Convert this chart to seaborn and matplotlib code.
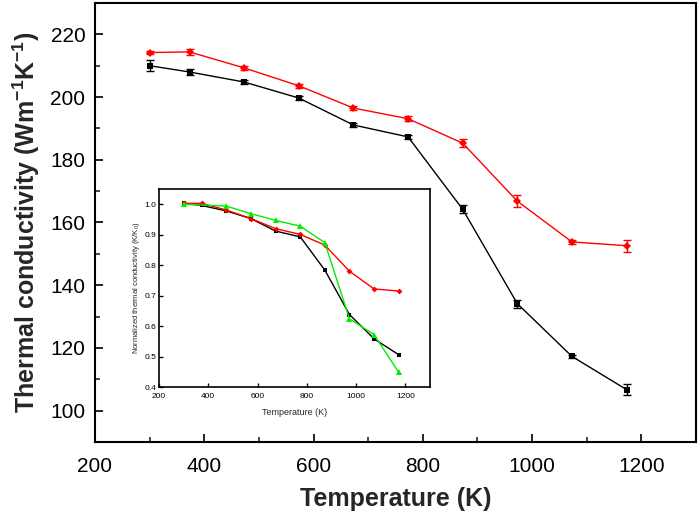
import matplotlib
matplotlib.use("Agg")
import matplotlib.pyplot as plt
from matplotlib.ticker import MultipleLocator, FormatStrFormatter
import pandas as pd
import seaborn as sns

# Main panel: thermal conductivity (Wm-1K-1)
temp = [300, 373, 473, 573, 673, 773, 873, 973, 1073, 1173]
kappa_black = [210.0, 208.0, 204.8, 199.7, 191.1, 187.3, 164.2, 134.1, 117.3, 106.7]
err_black = [1.8, 1.0, 0.6, 0.7, 0.7, 0.7, 1.3, 1.3, 0.6, 1.8]
kappa_red = [214.2, 214.4, 209.3, 203.6, 196.5, 193.1, 185.3, 166.8, 153.8, 152.6]
err_red = [0.6, 1.0, 0.6, 0.6, 0.6, 0.8, 1.2, 1.9, 0.5, 1.9]

# Inset: normalized thermal conductivity
norm_black = [1.003, 0.996, 0.978, 0.953, 0.912, 0.893, 0.784, 0.638, 0.558, 0.506]
norm_red = [1.003, 1.003, 0.981, 0.953, 0.920, 0.901, 0.866, 0.780, 0.722, 0.715]
temp_green = [300, 473, 573, 673, 773, 873, 973, 1073, 1173]
norm_green = [1.000, 0.994, 0.969, 0.947, 0.928, 0.874, 0.624, 0.572, 0.448]

RED = "#ff0000"
GREEN = "#00ee00"

sns.set_theme(style="ticks")
plt.rcParams["font.family"] = ["Liberation Sans", "DejaVu Sans"]
plt.rcParams["mathtext.fontset"] = "custom"
plt.rcParams["mathtext.rm"] = "Liberation Sans"
plt.rcParams["mathtext.bf"] = "Liberation Sans:bold"


def style_axis(ax, lw, major, minor, size):
    """Box frame with inward ticks on bottom/left only."""
    for sp in ax.spines.values():
        sp.set_visible(True)
        sp.set_linewidth(lw)
        sp.set_color("black")
    ax.tick_params(which="major", direction="in", length=major, width=lw * 0.8,
                   labelsize=size, top=False, right=False, colors="black")
    ax.tick_params(which="minor", direction="in", length=minor, width=lw * 0.8,
                   top=False, right=False)


def main():
    fig = plt.figure(figsize=(7.0, 5.14), dpi=100)
    ax = fig.add_axes([95 / 700, 1 - 442 / 514, 601 / 700, 439 / 514])

    df = pd.DataFrame({"T": temp * 2,
                       "k": kappa_black + kappa_red,
                       "s": ["black"] * len(temp) + ["red"] * len(temp)})
    sns.lineplot(data=df, x="T", y="k", hue="s", style="s",
                 palette={"black": "black", "red": RED},
                 markers={"black": "s", "red": "D"}, dashes=False,
                 markersize=4.5, linewidth=1.0, markeredgewidth=0,
                 legend=False, ax=ax)
    ax.errorbar(temp, kappa_black, yerr=err_black, fmt="none", ecolor="black",
                elinewidth=1.0, capsize=3.2, capthick=1.0)
    ax.errorbar(temp, kappa_red, yerr=err_red, fmt="none", ecolor=RED,
                elinewidth=1.0, capsize=3.2, capthick=1.0)

    ax.set_xlim(200, 1300)
    ax.set_ylim(90, 230)
    ax.xaxis.set_major_locator(MultipleLocator(200))
    ax.xaxis.set_minor_locator(MultipleLocator(100))
    ax.yaxis.set_major_locator(MultipleLocator(20))
    ax.yaxis.set_minor_locator(MultipleLocator(10))
    style_axis(ax, 1.5, 6, 3.5, 15)
    ax.tick_params(axis="x", pad=11)
    ax.tick_params(axis="y", pad=7)
    ax.set_xlabel("Temperature (K)", fontsize=18, fontweight="bold", labelpad=8)
    ax.set_ylabel(r"Thermal conductivity (Wm$^{\mathbf{-1}}$K$^{\mathbf{-1}}$)",
                  fontsize=18, fontweight="bold", labelpad=6)

    # Inset
    ins = fig.add_axes([159 / 700, 1 - 387 / 514, 271 / 700, 198 / 514])
    ins.plot(temp, norm_black, color="black", marker="s", markersize=3,
             linewidth=1.0, markeredgewidth=0)
    ins.plot(temp, norm_red, color=RED, marker="D", markersize=3,
             linewidth=1.0, markeredgewidth=0)
    ins.plot(temp_green, norm_green, color=GREEN, marker="^", markersize=5,
             linewidth=1.0, markeredgewidth=0)
    ins.set_xlim(200, 1300)
    ins.set_ylim(0.4, 1.05)
    ins.xaxis.set_major_locator(MultipleLocator(200))
    ins.yaxis.set_major_locator(MultipleLocator(0.1))
    ins.yaxis.set_major_formatter(FormatStrFormatter("%.1f"))
    style_axis(ins, 1.2, 3, 1.5, 6)
    ins.tick_params(axis="x", pad=4)
    ins.tick_params(axis="y", pad=2)
    ins.set_xlabel("Temperature (K)", fontsize=6.5, labelpad=6)
    ins.set_ylabel("Normalized thermal conductivity (K/K$_0$)", fontsize=5.5,
                   labelpad=2)

    fig.savefig("out.png", dpi=100)
    plt.close(fig)


if __name__ == "__main__":
    main()
